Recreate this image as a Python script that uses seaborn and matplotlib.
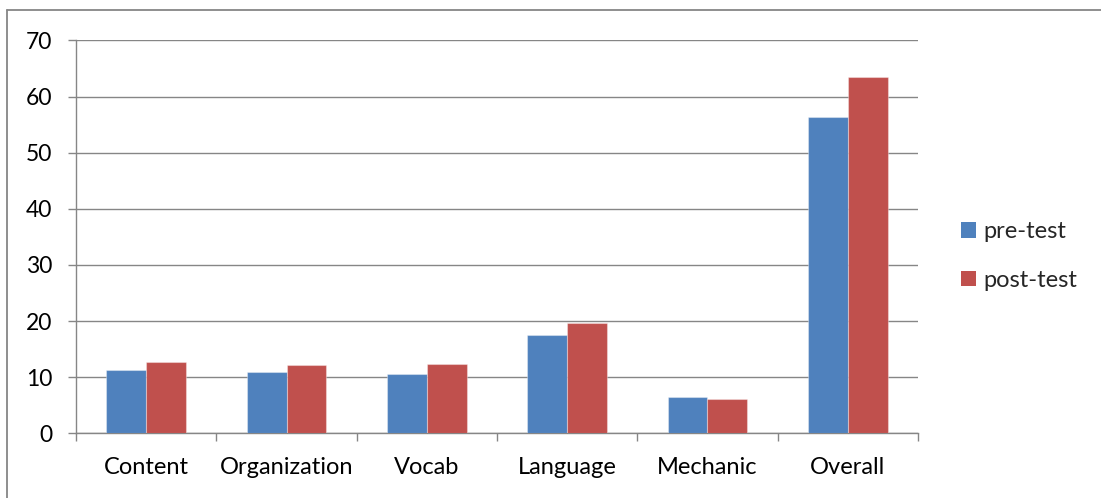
import matplotlib
matplotlib.use("Agg")
import matplotlib.pyplot as plt
from matplotlib.lines import Line2D
from matplotlib.patches import Patch
from matplotlib.ticker import FixedLocator, MultipleLocator
import pandas as pd
import seaborn as sns

# Writing scores, pre-test vs post-test
categories = ["Content", "Organization", "Vocab", "Language", "Mechanic", "Overall"]
pre_test = [11.3, 11.0, 10.5, 17.5, 6.5, 56.4]
post_test = [12.7, 12.2, 12.3, 19.7, 6.1, 63.5]
series_names = ["pre-test", "post-test"]
series_colors = ["#4F81BD", "#C0504D"]

df = pd.DataFrame({
    "category": categories * 2,
    "score": pre_test + post_test,
    "test": [series_names[0]] * len(categories) + [series_names[1]] * len(categories),
})

sns.set_theme(style="white")
plt.rcParams["font.family"] = ["Lato", "DejaVu Sans"]

W, H = 1101, 498
fig = plt.figure(figsize=(W / 100, H / 100), dpi=100)
ax = fig.add_axes([76 / W, 1 - 433.3 / H, (918 - 76) / W, (433.3 - 40.5) / H])

grey = "#868686"

sns.barplot(data=df, x="category", y="score", hue="test", order=categories,
            hue_order=series_names, palette=series_colors, width=0.57,
            saturation=1, legend=False, ax=ax, zorder=3)
for patch in ax.patches:
    patch.set_edgecolor((1, 1, 1, 0.35))
    patch.set_linewidth(0.8)

ax.set_xlim(-0.5, len(categories) - 0.5)
ax.set_ylim(0, 70)
ax.yaxis.set_major_locator(MultipleLocator(10))
ax.grid(axis="y", color=grey, linewidth=1.0, zorder=0)
ax.set_axisbelow(True)

# Category boundaries carry the tick marks; labels sit at the centres
ax.xaxis.set_minor_locator(FixedLocator([i - 0.5 for i in range(len(categories) + 1)]))
ax.tick_params(axis="x", which="major", length=0, pad=17, labelsize=17, labelcolor="black")
ax.tick_params(axis="x", which="minor", length=6, width=1.0, color=grey, direction="out", bottom=True)
ax.tick_params(axis="y", which="major", length=6, width=1.0, color=grey, direction="out",
               left=True, pad=11, labelsize=16.5, labelcolor="black")

ax.set_xlabel("")
ax.set_ylabel("")
for side in ("top", "right"):
    ax.spines[side].set_visible(False)
for side in ("left", "bottom"):
    ax.spines[side].set_color(grey)
    ax.spines[side].set_linewidth(1.0)

handles = [Patch(facecolor=c, edgecolor="none") for c in series_colors]
fig.legend(handles, series_names, loc="upper left", bbox_to_anchor=(952 / W, 1 - 212 / H),
           frameon=False, fontsize=17, handlelength=0.62, handleheight=0.62,
           handletextpad=0.3, labelspacing=1.15, borderaxespad=0)

# Chart frame
fig.add_artist(Line2D([7 / W, 7 / W], [0, 1 - 10 / H], color=grey, linewidth=1.3,
                      transform=fig.transFigure))
fig.add_artist(Line2D([7 / W, 1], [1 - 10 / H, 1 - 10 / H], color=grey, linewidth=1.3,
                      transform=fig.transFigure))

fig.savefig("out.png", dpi=100, facecolor="white")
